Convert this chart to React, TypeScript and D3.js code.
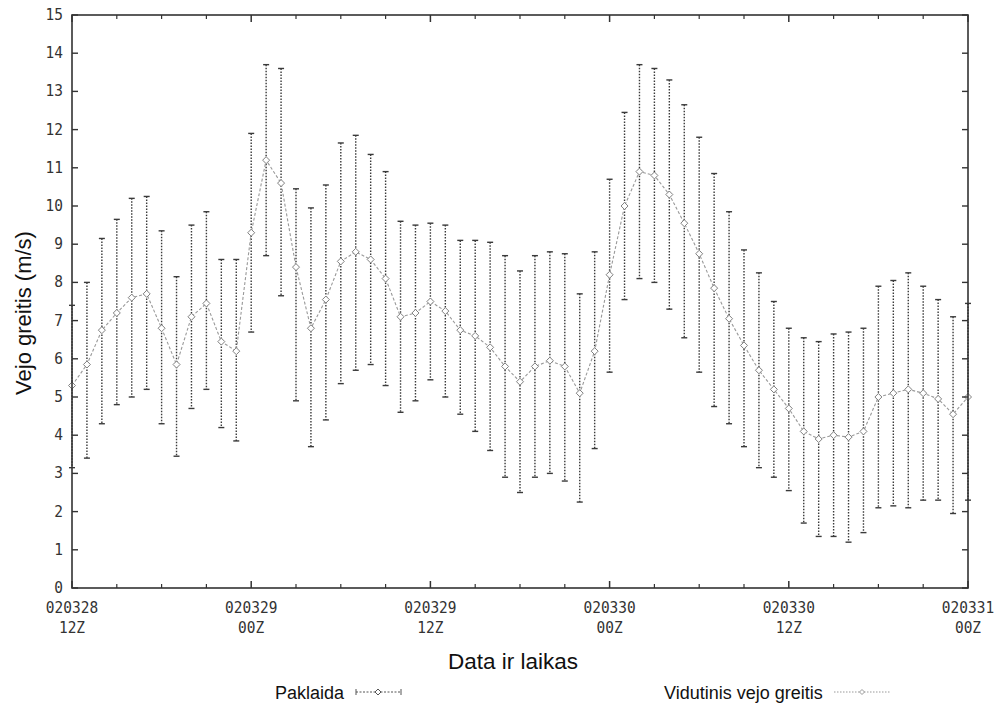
import React from "react";
import * as d3 from "d3";

// hourly values, 020328 12Z .. 020331 00Z
const hours = d3.range(0, 61);
const meanSpeed = [
  5.3, 5.85, 6.75, 7.2, 7.6, 7.7, 6.8, 5.85, 7.1, 7.45, 6.45, 6.2, 9.3, 11.2, 10.6, 8.4,
  6.8, 7.55, 8.55, 8.8, 8.6, 8.1, 7.1, 7.2, 7.5, 7.25, 6.75, 6.6, 6.3, 5.8, 5.4, 5.8,
  5.95, 5.8, 5.1, 6.2, 8.2, 10.0, 10.9, 10.8, 10.3, 9.55, 8.75, 7.85, 7.05, 6.35, 5.7,
  5.2, 4.7, 4.1, 3.9, 4.0, 3.95, 4.1, 5.0, 5.1, 5.2, 5.1, 4.95, 4.55, 5.0,
];
const upperSpeed = [
  7.4, 8.0, 9.15, 9.65, 10.2, 10.25, 9.35, 8.15, 9.5, 9.85, 8.6, 8.6, 11.9, 13.7, 13.6,
  10.45, 9.95, 10.55, 11.65, 11.85, 11.35, 10.9, 9.6, 9.5, 9.55, 9.5, 9.1, 9.1, 9.05, 8.7,
  8.3, 8.7, 8.8, 8.75, 7.7, 8.8, 10.7, 12.45, 13.7, 13.6, 13.3, 12.65, 11.8, 10.85, 9.85,
  8.85, 8.25, 7.5, 6.8, 6.55, 6.45, 6.65, 6.7, 6.8, 7.9, 8.05, 8.25, 7.9, 7.55, 7.1, 7.45,
];
const lowerSpeed = [
  3.15, 3.4, 4.3, 4.8, 5.0, 5.2, 4.3, 3.45, 4.7, 5.2, 4.2, 3.85, 6.7, 8.7, 7.65, 4.9, 3.7,
  4.4, 5.35, 5.7, 5.85, 5.3, 4.6, 4.9, 5.45, 5.0, 4.55, 4.1, 3.6, 2.9, 2.5, 2.9, 3.0, 2.8,
  2.25, 3.65, 5.65, 7.55, 8.1, 8.0, 7.3, 6.55, 5.65, 4.75, 4.3, 3.7, 3.15, 2.9, 2.55, 1.7,
  1.35, 1.35, 1.2, 1.45, 2.1, 2.15, 2.1, 2.3, 2.3, 1.95, 2.3,
];
const xTickHours = [0, 12, 24, 36, 48, 60];
const xTickDates = ["020328", "020329", "020329", "020330", "020330", "020331"];
const xTickTimes = ["12Z", "00Z", "12Z", "00Z", "12Z", "00Z"];
const yTicks = d3.range(0, 16);

export default function App() {
  const width = 1002;
  const height = 705;
  const left = 72;
  const right = 968;
  const top = 15;
  const bottom = 588;

  const x = d3.scaleLinear().domain([0, 60]).range([left, right]);
  const y = d3.scaleLinear().domain([0, 15]).range([bottom, top]);

  const meanLine = d3
    .line<number>()
    .x((_, i) => x(hours[i]))
    .y((d) => y(d));

  const minorTicks = d3.range(0, 61, 3).filter((h) => h % 12 !== 0);
  const tickFont = "'DejaVu Sans Mono', monospace";
  const sans = "'Liberation Sans', Arial, sans-serif";
  const diamond = (cx: number, cy: number, r: number) =>
    `M${cx},${cy - r}L${cx + r},${cy}L${cx},${cy + r}L${cx - r},${cy}Z`;

  // tick label text, a little taller than the mono font
  const tickText = (tx: number, ty: number, anchor: string, s: string | number) => (
    <text
      transform={`translate(${tx},${ty}) scale(1,1.12)`}
      textAnchor={anchor}
      fontFamily={tickFont}
      fontSize={14.5}
      fill="#333"
    >
      {s}
    </text>
  );

  return (
    <div style={{ position: "absolute", left: 0, top: 0 }}>
      <svg width={width} height={height} style={{ display: "block", background: "#fff" }}>
        {/* error bars */}
        {hours.map((h, i) => (
          <g key={`e${i}`} stroke="#3a3a3a" strokeWidth={1.4}>
            <line
              x1={x(h)}
              x2={x(h)}
              y1={y(upperSpeed[i])}
              y2={y(lowerSpeed[i])}
              strokeDasharray="1.5,1.5"
            />
            <line x1={x(h) - 3} x2={x(h) + 3} y1={y(upperSpeed[i])} y2={y(upperSpeed[i])} />
            <line x1={x(h) - 3} x2={x(h) + 3} y1={y(lowerSpeed[i])} y2={y(lowerSpeed[i])} />
          </g>
        ))}

        {/* mean wind speed */}
        <path
          d={meanLine(meanSpeed) || undefined}
          fill="none"
          stroke="#999"
          strokeWidth={1.1}
          strokeDasharray="3,2"
        />
        {hours.map((h, i) => (
          <path
            key={`m${i}`}
            d={diamond(x(h), y(meanSpeed[i]), 3.5)}
            fill="#fff"
            stroke="#808080"
            strokeWidth={1}
          />
        ))}

        {/* frame */}
        <rect
          x={left}
          y={top}
          width={right - left}
          height={bottom - top}
          fill="none"
          stroke="#333"
          strokeWidth={1.6}
        />

        {/* y ticks */}
        {yTicks.map((t) => (
          <g key={`y${t}`}>
            <line x1={left} x2={left + 6} y1={y(t)} y2={y(t)} stroke="#333" strokeWidth={1.4} />
            <line x1={right - 6} x2={right} y1={y(t)} y2={y(t)} stroke="#333" strokeWidth={1.4} />
            {tickText(left - 9, y(t) + 5, "end", t)}
          </g>
        ))}

        {/* x ticks */}
        {minorTicks.map((h) => (
          <g key={`n${h}`} stroke="#333" strokeWidth={1.2}>
            <line x1={x(h)} x2={x(h)} y1={bottom} y2={bottom - 4} />
            <line x1={x(h)} x2={x(h)} y1={top} y2={top + 4} />
          </g>
        ))}
        {xTickHours.map((h, i) => (
          <g key={`x${h}`}>
            <line x1={x(h)} x2={x(h)} y1={bottom} y2={bottom - 7} stroke="#333" strokeWidth={1.5} />
            <line x1={x(h)} x2={x(h)} y1={top} y2={top + 7} stroke="#333" strokeWidth={1.5} />
            {tickText(x(h), 613, "middle", xTickDates[i])}
            {tickText(x(h), 633, "middle", xTickTimes[i])}
          </g>
        ))}

        {/* axis titles */}
        <text x={513} y={669} textAnchor="middle" fontFamily={sans} fontSize={22.5} fill="#111">
          Data ir laikas
        </text>
        <text
          transform={`translate(31, 313) rotate(-90)`}
          textAnchor="middle"
          fontFamily={sans}
          fontSize={22}
          fill="#111"
        >
          Vejo greitis (m/s)
        </text>

        {/* legend */}
        <g fontFamily={sans} fontSize={18} fill="#111">
          <text x={275} y={699}>
            Paklaida
          </text>
          <g stroke="#555" strokeWidth={1}>
            <line x1={356} x2={401} y1={692} y2={692} strokeDasharray="2,1.5" />
            <line x1={356} x2={356} y1={689} y2={695} />
            <line x1={401} x2={401} y1={689} y2={695} />
            <path d={diamond(378, 692, 3)} fill="#fff" />
          </g>
          <text x={664} y={699}>
            Vidutinis vejo greitis
          </text>
          <g stroke="#999" strokeWidth={1}>
            <line x1={834} x2={891} y1={692} y2={692} strokeDasharray="1.5,1.5" />
            <path d={diamond(862, 692, 2.5)} fill="#fff" />
          </g>
        </g>
      </svg>
    </div>
  );
}
